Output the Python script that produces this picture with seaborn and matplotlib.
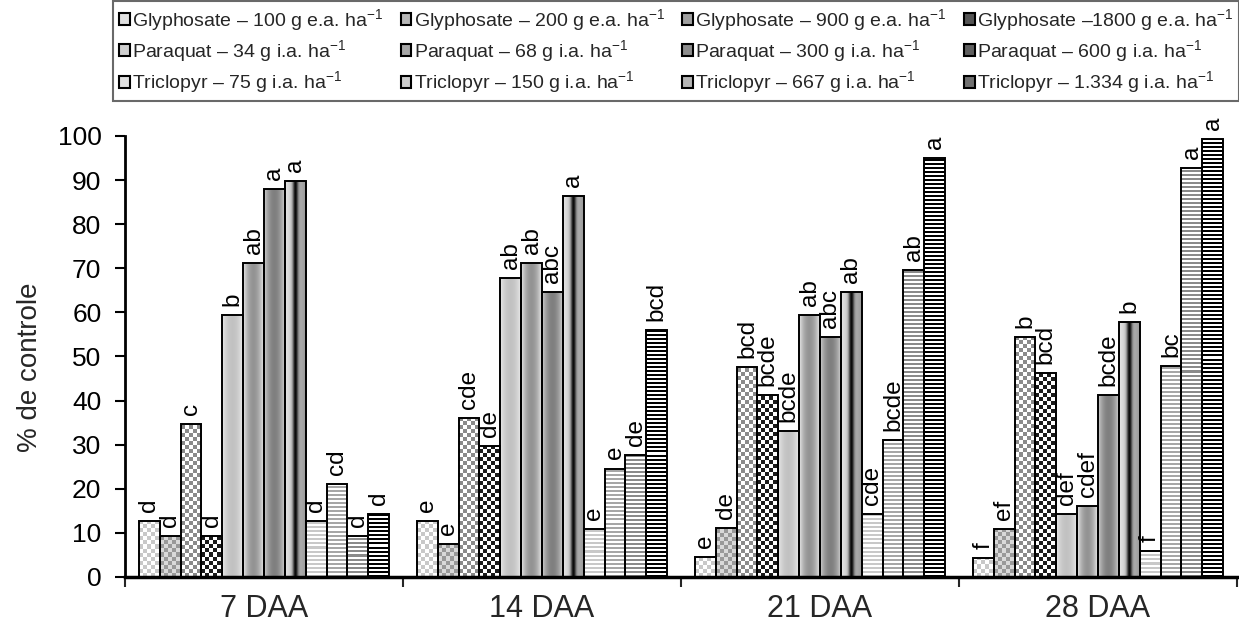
import numpy as np
import pandas as pd
import matplotlib
matplotlib.use("Agg")
import matplotlib.pyplot as plt
from matplotlib.patches import Patch
import seaborn as sns

# ---------------- data ----------------
periods = ["7 DAA", "14 DAA", "21 DAA", "28 DAA"]
treatments = [
    "Glyphosate – 100 g e.a. ha$^{-1}$",
    "Glyphosate – 200 g e.a. ha$^{-1}$",
    "Glyphosate – 900 g e.a. ha$^{-1}$",
    "Glyphosate –1800 g e.a. ha$^{-1}$",
    "Paraquat – 34 g i.a. ha$^{-1}$",
    "Paraquat – 68 g i.a. ha$^{-1}$",
    "Paraquat – 300 g i.a. ha$^{-1}$",
    "Paraquat – 600 g i.a. ha$^{-1}$",
    "Triclopyr – 75 g i.a. ha$^{-1}$",
    "Triclopyr – 150 g i.a. ha$^{-1}$",
    "Triclopyr – 667 g i.a. ha$^{-1}$",
    "Triclopyr – 1.334 g i.a. ha$^{-1}$",
]
values_7daa = [12.8, 9.4, 34.6, 9.4, 59.4, 71.1, 87.9, 89.9, 12.8, 21.1, 9.4, 14.3]
values_14daa = [12.8, 7.5, 36.0, 29.6, 67.8, 71.1, 64.7, 86.3, 10.9, 24.6, 27.6, 56.1]
values_21daa = [4.5, 11.0, 47.7, 41.3, 33.1, 59.4, 54.5, 64.7, 14.3, 31.0, 69.6, 94.9]
values_28daa = [4.4, 10.9, 54.5, 46.2, 14.3, 16.2, 41.3, 57.9, 6.0, 47.8, 92.8, 99.4]
letters_7daa = ["d", "d", "c", "d", "b", "ab", "a", "a", "d", "cd", "d", "d"]
letters_14daa = ["e", "e", "cde", "de", "ab", "ab", "abc", "a", "e", "e", "de", "bcd"]
letters_21daa = ["e", "de", "bcd", "bcde", "bcde", "ab", "abc", "ab", "cde", "bcde", "ab", "a"]
letters_28daa = ["f", "ef", "b", "bcd", "def", "cdef", "bcde", "b", "f", "bc", "a", "a"]

all_values = [values_7daa, values_14daa, values_21daa, values_28daa]
all_letters = [letters_7daa, letters_14daa, letters_21daa, letters_28daa]

rows = []
for p, vals in zip(periods, all_values):
    for t, v in zip(treatments, vals):
        rows.append({"period": p, "treatment": t, "value": v})
df = pd.DataFrame(rows)

# ---------------- style ----------------
sns.set_theme(style="white")
plt.rcParams["font.family"] = ["Liberation Sans", "DejaVu Sans"]
plt.rcParams["mathtext.fontset"] = "custom"
plt.rcParams["mathtext.rm"] = "Liberation Sans"
plt.rcParams["mathtext.it"] = "Liberation Sans:italic"
plt.rcParams["mathtext.bf"] = "Liberation Sans:bold"
plt.rcParams["mathtext.default"] = "regular"

W, H, DPI = 12.39, 6.28, 100
fig = plt.figure(figsize=(W, H), dpi=DPI)
ax_l, ax_r, ax_b, ax_t = 125, 1237, 577, 136  # pixel coords
ax = fig.add_axes([ax_l / 1239, (628 - ax_b) / 628, (ax_r - ax_l) / 1239, (ax_b - ax_t) / 628])

sns.barplot(data=df, x="period", y="value", hue="treatment", order=periods,
            hue_order=treatments, width=0.9, errorbar=None, saturation=1,
            color="white", legend=False, ax=ax)

ax.set_xlim(-0.5, 3.5)
ax.set_ylim(0, 100)

px_per_x = (ax_r - ax_l) / 4.0
px_per_y = (ax_b - ax_t) / 100.0


def hexrgb(h):
    h = h.lstrip("#")
    return np.array([int(h[i:i + 2], 16) / 255 for i in (0, 2, 4)])


def checker(nx, ny, c1, c2, cell=4):
    jj, ii = np.meshgrid(np.arange(nx), np.arange(ny))
    m = ((ii // cell) + (jj // cell)) % 2
    return np.where(m[..., None] == 1, hexrgb(c2), hexrgb(c1))


def stripes(nx, ny, dark, light="#ffffff", period=4, thick=2):
    ii = np.arange(ny)[:, None] * np.ones((1, nx))
    m = (ii % period) < thick
    return np.where(m[..., None], hexrgb(dark), hexrgb(light))


def gradient(nx, ny, profile):
    t = (np.arange(nx) + 0.5) / nx
    g = profile(t)
    a = np.repeat(g[None, :], ny, axis=0)
    return np.stack([a, a, a], axis=-1)


def cyl(edge, center):
    return lambda t: edge + (center - edge) * np.sin(np.pi * t) ** 0.8


def p600(t):
    base = 0.9 - 0.3 * t
    return base - (base - 0.05) * np.exp(-((t - 0.5) / 0.13) ** 2)


fills = [
    lambda nx, ny: checker(nx, ny, "#ffffff", "#c8c8c8"),
    lambda nx, ny: checker(nx, ny, "#d9d9d9", "#999999"),
    lambda nx, ny: checker(nx, ny, "#ffffff", "#8a8a8a"),
    lambda nx, ny: checker(nx, ny, "#ffffff", "#1a1a1a"),
    lambda nx, ny: gradient(nx, ny, cyl(0.93, 0.76)),
    lambda nx, ny: gradient(nx, ny, cyl(0.95, 0.58)),
    lambda nx, ny: gradient(nx, ny, cyl(0.85, 0.50)),
    lambda nx, ny: gradient(nx, ny, p600),
    lambda nx, ny: stripes(nx, ny, "#c8c8c8"),
    lambda nx, ny: stripes(nx, ny, "#a6a6a6"),
    lambda nx, ny: stripes(nx, ny, "#8a8a8a"),
    lambda nx, ny: stripes(nx, ny, "#000000"),
]
legend_colors = ["#e0e0e0", "#b8b8b8", "#a0a0a0", "#555555",
                 "#cfcfcf", "#a8a8a8", "#8c8c8c", "#606060",
                 "#e0e0e0", "#cccccc", "#b5b5b5", "#707070"]

for k, cont in enumerate(ax.containers):
    for j, bar in enumerate(cont):
        x0 = bar.get_x()
        w = bar.get_width()
        h = bar.get_height()
        nx = max(1, int(round(w * px_per_x)))
        ny = max(1, int(round(h * px_per_y)))
        img = fills[k](nx, ny)
        im = ax.imshow(img, extent=(x0, x0 + w, 0, h), origin="lower",
                       aspect="auto", interpolation="nearest", zorder=1)
        im.set_clip_path(bar)
        bar.set_facecolor("none")
        bar.set_edgecolor("black")
        bar.set_linewidth(1.4)
        bar.set_zorder(2)
        ax.annotate(all_letters[j][k], (x0 + w / 2, h), xytext=(0, 6.5),
                    textcoords="offset points", rotation=90, ha="center",
                    va="bottom", fontsize=17.5, color="black", zorder=3)

ax.set_xlim(-0.5, 3.5)
ax.set_ylim(0, 100)
ax.set_xlabel("")
ax.set_ylabel("")
ax.set_yticks(np.arange(0, 101, 10))
ax.tick_params(axis="y", which="major", direction="out", length=7, width=1.5,
               labelsize=19, pad=10, colors="black", left=True)
ax.set_xticks([0, 1, 2, 3])
ax.set_xticklabels(periods)
ax.set_xticks([-0.5, 0.5, 1.5, 2.5, 3.5], minor=True)
ax.tick_params(axis="x", which="major", length=0, pad=12, labelsize=22)
ax.tick_params(axis="x", which="minor", direction="out", length=7, width=1.5,
               bottom=True)
for s in ["top", "right"]:
    ax.spines[s].set_visible(False)
ax.spines["left"].set_linewidth(2)
ax.spines["left"].set_color("black")
ax.spines["bottom"].set_linewidth(2.5)
ax.spines["bottom"].set_color("black")
ax.spines["bottom"].set_zorder(4)

fig.text(30 / 1239, 1 - 367 / 628, "% de controle", rotation=90, ha="center",
         va="center", fontsize=20)

# legend, filled row-wise
handles = [Patch(facecolor=c, edgecolor="black", linewidth=1.5) for c in legend_colors]
order = [r * 4 + c for c in range(4) for r in range(3)]
leg = fig.legend([handles[i] for i in order], [treatments[i] for i in order],
                 ncol=4, loc="upper left", bbox_to_anchor=(113 / 1239, 1 - 1 / 628),
                 bbox_transform=fig.transFigure, frameon=True, fancybox=False,
                 fontsize=14, handlelength=0.55, handleheight=0.55,
                 handletextpad=0.12, columnspacing=0.9, labelspacing=0.28,
                 borderpad=0.3, borderaxespad=0)
leg.get_frame().set_edgecolor("#444444")
leg.get_frame().set_linewidth(1.5)

fig.savefig("out.png", dpi=DPI)
